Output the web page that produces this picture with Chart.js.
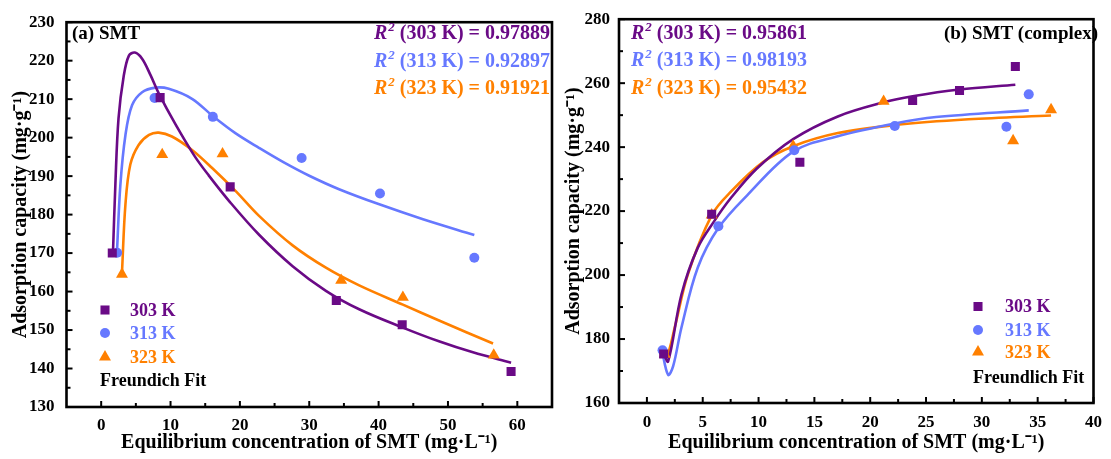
<!DOCTYPE html>
<html>
<head>
<meta charset="utf-8">
<script src="https://cdn.jsdelivr.net/npm/chart.js@4/dist/chart.umd.min.js"></script>
<style>
  html, body { margin: 0; padding: 0; background: #fff; }
  #wrap { position: relative; width: 1111px; height: 459px; }
  .panel { position: absolute; top: 0; }
  #panelA { left: 0; }
  #panelB { left: 560px; }
</style>
</head>
<body>
<div id="wrap">
  <div class="panel" id="panelA"><canvas id="chartA" width="560" height="459"></canvas></div>
  <div class="panel" id="panelB"><canvas id="chartB" width="551" height="459"></canvas></div>
</div>
<script>
// series labels
const temps = ['303 K', '313 K', '323 K'];

// (a) SMT - measured points
const aX303 = [1.6, 8.5, 18.6, 33.9, 43.4, 59.1];
const aY303 = [170.0, 210.4, 187.2, 157.7, 151.4, 139.2];
const aX313 = [2.3, 7.7, 16.1, 28.9, 40.2, 53.8];
const aY313 = [170.1, 210.3, 205.4, 194.7, 185.5, 168.8];
const aX323 = [3.0, 8.8, 17.5, 34.6, 43.5, 56.6];
const aY323 = [164.5, 195.6, 195.8, 162.9, 158.5, 143.5];

// (a) SMT - fit curves
const aFitX303 = [1.7, 2.05, 2.5, 3.25, 4, 4.85, 5.9, 7.1, 8.3, 10.7, 13.4, 15.5, 18.6, 22.8, 27.6, 32.4, 37.2, 43.4, 48.8, 53.6, 59.1];
const aFitY303 = [170, 188, 205, 216, 221.3, 222.1, 220.5, 216.3, 211.5, 203.5, 195.4, 190.2, 183.2, 174.7, 166.6, 160.2, 155.4, 150.7, 147.0, 144.2, 141.5];
const aFitX313 = [2.28, 2.77, 3.5, 4.45, 5.9, 7.83, 9.75, 13.1, 16.1, 19.4, 22.8, 26.4, 30, 34.3, 40.2, 46.4, 53.8];
const aFitY313 = [170.5, 187.8, 200.7, 208.4, 211.8, 213, 212.7, 210.1, 205.6, 201.1, 197.3, 193.5, 190.1, 186.6, 182.6, 178.8, 174.7];
const aFitX323 = [3, 3.5, 4.2, 5.4, 6.9, 8.3, 10.2, 13.1, 16, 19.4, 22.8, 27.6, 32.4, 37.2, 43.5, 48.8, 56.5];
const aFitY323 = [165, 182.7, 193, 198.1, 200.7, 201.3, 200.3, 196.8, 192.1, 186.1, 179.6, 172, 166.2, 161.6, 156.6, 152.4, 146.5];

const aR2 = ['0.97889', '0.92897', '0.91921'];
const aXTicks = [0, 10, 20, 30, 40, 50, 60];
const aXMinor = [5, 15, 25, 35, 45, 55];
const aYTicks = [130, 140, 150, 160, 170, 180, 190, 200, 210, 220, 230];
const aYMinor = [135, 145, 155, 165, 175, 185, 195, 205, 215, 225];

// (b) SMT (complex) - measured points
const bX303 = [1.5, 5.8, 13.7, 23.8, 28.0, 33.0];
const bY303 = [175.3, 219.0, 235.3, 254.6, 257.7, 265.2];
const bX313 = [1.4, 6.4, 13.2, 22.2, 32.2, 34.2];
const bY313 = [176.5, 215.3, 239.0, 246.6, 246.4, 256.5];
const bX323 = [1.6, 5.8, 13.1, 21.2, 32.8, 36.2];
const bY323 = [175.2, 218.8, 240.3, 254.3, 242.0, 251.7];

// (b) fit curves
const bFitX303 = [1.5, 1.9, 3.1, 4.55, 6, 7.5, 9.85, 13.1, 17.1, 21.2, 23.8, 28, 33];
const bFitY303 = [175.5, 173, 194, 208.5, 216.7, 224, 233.3, 242.5, 249.6, 254, 255.9, 258, 259.5];
const bFitX313 = [1.32, 1.9, 2.35, 3.1, 4.55, 6.4, 9, 13.1, 17.1, 22.2, 25.9, 34.2];
const bFitY313 = [177, 168.8, 171.5, 183.7, 202.3, 214.7, 225, 238.6, 243.4, 247.4, 249.4, 251.5];
const bFitX323 = [1.32, 1.76, 2.5, 3.67, 5.82, 7.5, 10.4, 13.1, 17.1, 22.2, 28.8, 36.2];
const bFitY323 = [176, 174.4, 183.7, 200.2, 218.8, 226, 235.3, 240.3, 244.4, 246.9, 248.7, 249.9];

const bR2 = ['0.95861', '0.98193', '0.95432'];
const bXTicks = [0, 5, 10, 15, 20, 25, 30, 35, 40];
const bXMinor = [2.5, 7.5, 12.5, 17.5, 22.5, 27.5, 32.5, 37.5];
const bYTicks = [160, 180, 200, 220, 240, 260, 280];
const bYMinor = [170, 190, 210, 230, 250, 270];

const colors = ['#6a0a86', '#6678ff', '#ff8000'];
const styles = ['rect', 'circle', 'triangle'];
const radii = [6.4, 5, 6.9];
const serif = '"Liberation Serif", "Times New Roman", serif';
const xTitle = 'Equilibrium concentration of SMT (mg·L⁻¹)';
const yTitle = 'Adsorption capacity (mg·g⁻¹)';

function toPoints(xs, ys) {
  return xs.map((x, i) => ({ x, y: ys[i] }));
}

function fitSet(xs, ys, i) {
  return {
    data: toPoints(xs, ys),
    showLine: true,
    borderColor: colors[i],
    borderWidth: 2.6,
    pointRadius: 0,
    tension: 0.35,
    order: 2,
  };
}

function pointSet(xs, ys, i) {
  return {
    data: toPoints(xs, ys),
    showLine: false,
    backgroundColor: colors[i],
    borderColor: colors[i],
    borderWidth: 0,
    pointStyle: styles[i],
    pointRadius: radii[i],
    order: 1,
  };
}

function drawMarker(ctx, style, x, y, r, color) {
  ctx.fillStyle = color;
  ctx.beginPath();
  if (style === 'rect') {
    const s = r * Math.SQRT1_2;
    ctx.rect(x - s, y - s, 2 * s, 2 * s);
  } else if (style === 'circle') {
    ctx.arc(x, y, r, 0, Math.PI * 2);
  } else {
    ctx.moveTo(x, y - r);
    ctx.lineTo(x + r * 0.866, y + r * 0.5);
    ctx.lineTo(x - r * 0.866, y + r * 0.5);
    ctx.closePath();
  }
  ctx.fill();
}

function drawR2(ctx, x, y, temp, value, color, align) {
  const rest = ` (${temp}) = ${value}`;
  ctx.font = `italic bold 20px ${serif}`;
  const wR = ctx.measureText('R').width;
  ctx.font = `italic bold 13px ${serif}`;
  const w2 = ctx.measureText('2').width;
  ctx.font = `bold 20px ${serif}`;
  const wRest = ctx.measureText(rest).width;
  const sx = align === 'right' ? x - (wR + w2 + 1 + wRest) : x;
  ctx.fillStyle = color;
  ctx.textAlign = 'left';
  ctx.textBaseline = 'alphabetic';
  ctx.font = `italic bold 20px ${serif}`;
  ctx.fillText('R', sx, y);
  ctx.font = `italic bold 13px ${serif}`;
  ctx.fillText('2', sx + wR + 1, y - 8);
  ctx.font = `bold 20px ${serif}`;
  ctx.fillText(rest, sx + wR + w2 + 1, y);
}

function drawFrame(chart, xMajor, xMinor, yMajor, yMinor) {
  const { ctx, chartArea: a, scales } = chart;
  ctx.save();
  ctx.strokeStyle = '#000';
  ctx.lineWidth = 2;
  const tick = (x1, y1, x2, y2) => {
    ctx.beginPath();
    ctx.moveTo(x1, y1);
    ctx.lineTo(x2, y2);
    ctx.stroke();
  };
  xMajor.forEach((v) => { const p = scales.x.getPixelForValue(v); tick(p, a.bottom, p, a.bottom - 6); });
  xMinor.forEach((v) => { const p = scales.x.getPixelForValue(v); tick(p, a.bottom, p, a.bottom - 4); });
  yMajor.forEach((v) => { const p = scales.y.getPixelForValue(v); tick(a.left, p, a.left + 6, p); });
  yMinor.forEach((v) => { const p = scales.y.getPixelForValue(v); tick(a.left, p, a.left + 4, p); });
  ctx.lineWidth = 2.6;
  ctx.strokeRect(a.left, a.top, a.right - a.left, a.bottom - a.top);
  ctx.restore();
}

function drawLegend(ctx, mx, tx, ys, fx, fy, fitLabel) {
  ctx.textAlign = 'left';
  ctx.textBaseline = 'middle';
  ctx.font = `bold 18px ${serif}`;
  temps.forEach((t, i) => {
    drawMarker(ctx, styles[i], mx, ys[i], radii[i], colors[i]);
    ctx.fillStyle = colors[i];
    ctx.fillText(t, tx, ys[i] + 1);
  });
  ctx.fillStyle = '#000';
  ctx.fillText(fitLabel, fx, fy + 1);
}

function scaleOptions(min, max, ticks, pad, titlePad, fitSize, vertical) {
  return {
    type: 'linear',
    min,
    max,
    grid: { display: false, drawTicks: false },
    border: { display: false },
    afterBuildTicks: (s) => { s.ticks = ticks.map((v) => ({ value: v })); },
    afterFit: (s) => { if (vertical) { s.width = fitSize; } else { s.height = fitSize; } },
    ticks: { color: '#000', font: { family: serif, size: 17, weight: 'bold' }, padding: pad, maxRotation: 0 },
    title: {
      display: true,
      text: vertical ? yTitle : xTitle,
      color: '#000',
      font: { family: serif, size: 20, weight: 'bold' },
      padding: titlePad,
    },
  };
}

function baseOptions(xScale, yScale, padding) {
  return {
    responsive: false,
    animation: false,
    layout: { padding },
    plugins: { legend: { display: false }, tooltip: { enabled: false } },
    scales: { x: xScale, y: yScale },
  };
}

new Chart(document.getElementById('chartA'), {
  type: 'scatter',
  data: {
    datasets: [
      pointSet(aX303, aY303, 0), pointSet(aX313, aY313, 1), pointSet(aX323, aY323, 2),
      fitSet(aFitX303, aFitY303, 0), fitSet(aFitX313, aFitY313, 1), fitSet(aFitX323, aFitY323, 2),
    ],
  },
  options: baseOptions(
    scaleOptions(-5, 65, aXTicks, 8, { top: 0, bottom: 4 }, 52, false),
    scaleOptions(130, 230, aYTicks, 12, { top: 9, bottom: 0 }, 66.5, true),
    { top: 18, right: 8, bottom: 0, left: 0 }
  ),
  plugins: [{
    id: 'decorA',
    afterDraw(chart) {
      const ctx = chart.ctx;
      drawFrame(chart, aXTicks, aXMinor, aYTicks, aYMinor);
      ctx.save();
      ctx.fillStyle = '#000';
      ctx.font = `bold 19px ${serif}`;
      ctx.textAlign = 'left';
      ctx.textBaseline = 'alphabetic';
      ctx.fillText('(a) SMT', 72, 39);
      temps.forEach((t, i) => drawR2(ctx, 550, 39 + i * 27.5, t, aR2[i], colors[i], 'right'));
      drawLegend(ctx, 105, 130, [310, 333, 357], 100, 380, 'Freundich Fit');
      ctx.restore();
    },
  }],
});

new Chart(document.getElementById('chartB'), {
  type: 'scatter',
  data: {
    datasets: [
      pointSet(bX303, bY303, 0), pointSet(bX313, bY313, 1), pointSet(bX323, bY323, 2),
      fitSet(bFitX303, bFitY303, 0), fitSet(bFitX313, bFitY313, 1), fitSet(bFitX323, bFitY323, 2),
    ],
  },
  options: baseOptions(
    scaleOptions(-2.5, 40, bXTicks, 9, { top: 0, bottom: 4 }, 56, false),
    scaleOptions(160, 280, bYTicks, 9, { top: 2, bottom: 0 }, 59, true),
    { top: 15.5, right: 11, bottom: 0, left: 0 }
  ),
  plugins: [{
    id: 'decorB',
    afterDraw(chart) {
      const ctx = chart.ctx;
      drawFrame(chart, bXTicks, bXMinor, bYTicks, bYMinor);
      ctx.save();
      ctx.fillStyle = '#000';
      ctx.font = `bold 19px ${serif}`;
      ctx.textAlign = 'right';
      ctx.textBaseline = 'alphabetic';
      ctx.fillText('(b) SMT (complex)', 538, 39);
      temps.forEach((t, i) => drawR2(ctx, 71, 38.5 + i * 27.5, t, bR2[i], colors[i], 'left'));
      drawLegend(ctx, 418, 445, [306.5, 330, 352], 413, 377, 'Freundlich Fit');
      ctx.restore();
    },
  }],
});
</script>
</body>
</html>
